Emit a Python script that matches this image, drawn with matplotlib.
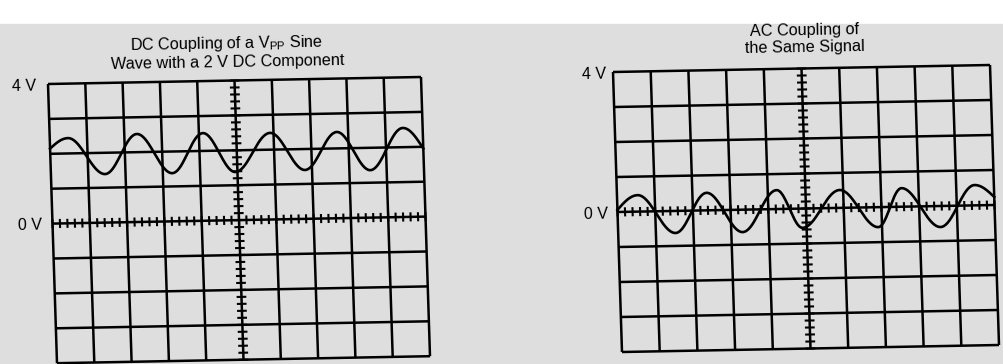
import numpy as np
import matplotlib.pyplot as plt
from matplotlib.patches import Rectangle
from matplotlib.transforms import Affine2D

plt.rcParams['font.family'] = ['Liberation Sans', 'DejaVu Sans']
plt.rcParams['mathtext.fontset'] = 'custom'
plt.rcParams['mathtext.rm'] = 'Liberation Sans'
plt.rcParams['mathtext.it'] = 'Liberation Sans:italic'

W, H = 1004, 364

# scope screen: 10 x 8 divisions, 1 V / div
n_cols = 10
v_top, v_bot = 4, -4
volt_labels = ['4 V', '0 V']
volt_label_pos = [4, 0]

# extrema of the traces (divisions, volts)
dc_u = [0.0, 0.49, 1.45, 2.34, 3.25, 4.11, 4.94, 5.91, 6.81, 7.70, 8.56, 9.47, 10.0]
dc_v = [2.15, 2.44, 1.39, 2.52, 1.38, 2.51, 1.38, 2.48, 1.40, 2.47, 1.36, 2.55, 1.95]
ac_u = [0.0, 0.55, 1.52, 2.38, 3.30, 4.24, 4.89, 5.91, 6.90, 7.55, 8.55, 9.49, 10.0]
ac_v = [0.06, 0.47, -0.63, 0.50, -0.64, 0.54, -0.55, 0.51, -0.57, 0.53, -0.60, 0.58, 0.23]

titles = ['DC Coupling of a V$_{\\rm PP}$ Sine\nWave with a 2 V DC Component',
          'AC Coupling of\nthe Same Signal']


def trace(u_pts, v_pts, n=40):
    # smooth half-cycles between the read extrema
    us, vs = [], []
    last = len(u_pts) - 2
    t = np.linspace(0, 1, n)
    for i in range(len(u_pts) - 1):
        if i == 0:
            s = np.sin(np.pi / 2 * t)
        elif i == last:
            s = 1 - np.cos(np.pi / 2 * t)
        else:
            s = (1 - np.cos(np.pi * t)) / 2
        us.append(u_pts[i] + (u_pts[i + 1] - u_pts[i]) * t)
        vs.append(v_pts[i] + (v_pts[i + 1] - v_pts[i]) * s)
    return np.concatenate(us), np.concatenate(vs)


fig = plt.figure(figsize=(W / 100, H / 100), dpi=100)
fig.patch.set_facecolor('white')
fig.patches.append(Rectangle((0, 0), 1, 1 - 24 / H, transform=fig.transFigure,
                             color='#dedede', zorder=-10))

# panel geometry in pixels (left, top, px per div x, px per div y, skews)
panels = [
    dict(x0=48, y0=84, dx=37.3, dy=34.9, kx=1.125 / 34.9, ky=0.7 / 37.3,
         u=dc_u, v=dc_v, lab_u=[-0.64, -0.6], title_xy=(227, 52)),
    dict(x0=613, y0=72, dx=37.7, dy=35.0, kx=1.125 / 35.0, ky=0.7 / 37.7,
         u=ac_u, v=ac_v, lab_u=[-0.5, -0.57], title_xy=(805, 39)),
]

for p, title in zip(panels, titles):
    hgt = (v_top - v_bot) * p['dy']
    ax = fig.add_axes([p['x0'] / W, 1 - (p['y0'] + hgt) / H,
                       n_cols * p['dx'] / W, hgt / H])
    ax.set_xlim(0, n_cols)
    ax.set_ylim(v_bot, v_top)
    ax.axis('off')
    ytop = H - p['y0']
    skew = Affine2D(np.array([[1, -p['kx'], p['kx'] * ytop],
                              [p['ky'], 1, -p['ky'] * p['x0']],
                              [0, 0, 1]]))
    tr = ax.transData + skew
    kw = dict(transform=tr, color='black', clip_on=False, solid_capstyle='butt')

    for c in range(n_cols + 1):
        ax.plot([c, c], [v_bot, v_top], lw=1.8, **kw)
    for r in range(v_bot, v_top + 1):
        ax.plot([0, n_cols], [r, r], lw=1.8, **kw)

    # minor ticks on the centre axes
    xs, ys = [], []
    for tv in np.arange(v_bot, v_top + 0.01, 0.2):
        xs += [n_cols / 2 - 0.13, n_cols / 2 + 0.13, np.nan]
        ys += [tv, tv, np.nan]
    for tu in np.arange(0, n_cols + 0.01, 0.2):
        xs += [tu, tu, np.nan]
        ys += [-0.13, 0.13, np.nan]
    ax.plot(xs, ys, lw=1.5, **kw)

    wu, wv = trace(p['u'], p['v'])
    ax.plot(wu, wv, lw=1.9, transform=tr, color='black', clip_on=False)

    for lab, lv, lu in zip(volt_labels, volt_label_pos, p['lab_u']):
        ax.text(lu, lv - 0.05, lab, transform=tr, ha='center', va='center',
                fontsize=11.5, rotation=1)

    fig.text(p['title_xy'][0] / W, 1 - p['title_xy'][1] / H, title,
             ha='center', va='center', fontsize=11.7, linespacing=1.15,
             rotation=1)

fig.savefig('out.png', dpi=100)
